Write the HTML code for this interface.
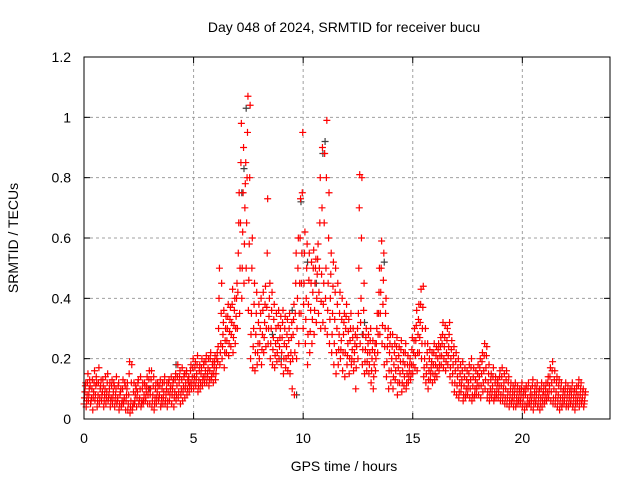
<!DOCTYPE html>
<html><head><meta charset="utf-8"><style>
body{margin:0;background:#fff;width:640px;height:480px;overflow:hidden}
svg{display:block;font-family:"Liberation Sans",sans-serif}
</style></head><body>
<svg id="chart" width="640" height="480" viewBox="0 0 640 480" xmlns="http://www.w3.org/2000/svg">
<text x="344" y="32" font-size="14" text-anchor="middle" fill="#000">Day 048 of 2024, SRMTID for receiver bucu</text>
<text transform="translate(18,238) rotate(-90)" font-size="14" text-anchor="middle" fill="#000">SRMTID / TECUs</text>
<text x="344" y="471" font-size="14" text-anchor="middle" fill="#000">GPS time / hours</text>
<g id="grid"></g>
<g id="ticks"></g>
<g id="grey"></g>
<g id="red"></g>
<rect x="84" y="57" width="526" height="362" fill="none" stroke="#000" stroke-width="1"/>
</svg>
<script>
const xTicks=[0,5,10,15,20];
const yTicks=[0,0.2,0.4,0.6,0.8,1,1.2];
const yTickLabels=["0","0.2","0.4","0.6","0.8","1","1.2"];
const tStep=0.1;
const srHi=[.12,.15,.11,.13,.16,.12,.17,.13,.11,.14,
.15,.12,.13,.11,.14,.12,.10,.13,.11,.12,
.19,.18,.12,.10,.13,.14,.12,.11,.14,.16,
.16,.14,.12,.11,.13,.12,.14,.12,.13,.14,
.13,.15,.18,.16,.17,.15,.16,.14,.18,.20,
.19,.21,.18,.20,.19,.21,.20,.22,.19,.21,
.22,.50,.45,.36,.34,.38,.37,.43,.40,.45,
.75,.98,.90,.85,1.07,1.04,.60,.45,.42,.38,
.40,.42,.44,.73,.45,.42,.38,.35,.36,.34,
.36,.34,.33,.35,.32,.38,.55,.60,.73,.95,
.62,.58,.55,.52,.56,.53,.58,.80,.90,.88,
.99,.75,.55,.52,.50,.45,.42,.40,.35,.38,
.33,.35,.30,.28,.30,.81,.80,.45,.30,.28,
.30,.26,.25,.35,.50,.59,.55,.40,.30,.28,
.28,.25,.27,.24,.26,.22,.25,.21,.20,.27,
.30,.36,.38,.43,.44,.30,.25,.23,.22,.25,
.24,.25,.27,.32,.31,.30,.32,.26,.24,.22,
.20,.18,.19,.17,.16,.18,.20,.17,.16,.18,
.20,.22,.25,.24,.18,.15,.17,.14,.13,.16,
.17,.15,.16,.14,.12,.11,.12,.11,.10,.12,
.10,.11,.12,.10,.13,.11,.12,.10,.12,.11,
.12,.14,.17,.19,.16,.14,.13,.12,.10,.12,
.11,.10,.12,.10,.11,.13,.12,.10,.09];
const srQ3=[.11,.12,.13,.10,.12,.14,.12,.11,.13,.10,
.12,.10,.11,.12,.10,.11,.09,.10,.12,.10,
.15,.12,.09,.11,.12,.10,.10,.12,.11,.13,
.13,.11,.10,.12,.11,.10,.12,.10,.12,.11,
.12,.13,.14,.14,.13,.14,.15,.12,.16,.17,
.17,.18,.16,.17,.18,.19,.17,.20,.18,.19,
.20,.40,.35,.32,.30,.34,.33,.38,.36,.40,
.65,.85,.75,.78,.95,.80,.50,.38,.35,.32,
.35,.36,.38,.55,.40,.36,.33,.30,.31,.30,
.32,.30,.28,.30,.27,.33,.45,.50,.60,.75,
.55,.50,.46,.45,.50,.50,.53,.65,.70,.65,
.80,.60,.48,.44,.42,.38,.35,.33,.32,.34,
.29,.30,.27,.25,.27,.70,.60,.36,.27,.25,
.26,.23,.22,.30,.42,.50,.46,.35,.27,.25,
.24,.22,.24,.21,.23,.19,.22,.18,.18,.23,
.26,.31,.33,.38,.37,.25,.22,.20,.19,.22,
.21,.23,.24,.28,.27,.26,.28,.23,.21,.19,
.17,.15,.16,.14,.13,.15,.17,.14,.13,.15,
.17,.19,.21,.21,.15,.13,.14,.12,.12,.14,
.14,.12,.13,.12,.10,.09,.10,.09,.09,.10,
.09,.10,.10,.08,.11,.09,.10,.09,.10,.09,
.10,.12,.14,.16,.13,.12,.11,.10,.09,.10,
.09,.09,.10,.09,.09,.11,.10,.09,.08];
const srMid=[.09,.08,.10,.07,.09,.11,.08,.10,.09,.08,
.09,.08,.07,.09,.08,.07,.08,.06,.07,.08,
.08,.06,.05,.08,.09,.07,.06,.08,.09,.10,
.10,.08,.07,.09,.08,.07,.09,.08,.09,.10,
.10,.09,.11,.12,.10,.11,.12,.13,.12,.14,
.14,.15,.13,.15,.14,.16,.15,.16,.15,.17,
.17,.30,.25,.28,.26,.30,.29,.32,.31,.34,
.55,.65,.62,.70,.80,.58,.35,.30,.28,.25,
.30,.28,.32,.37,.34,.30,.27,.25,.26,.27,
.27,.25,.24,.26,.22,.28,.35,.40,.45,.55,
.45,.40,.38,.36,.42,.45,.48,.50,.48,.45,
.50,.45,.40,.35,.33,.30,.28,.26,.28,.30,
.25,.26,.23,.22,.24,.50,.40,.28,.23,.22,
.22,.20,.18,.25,.35,.42,.38,.30,.24,.22,
.20,.18,.20,.17,.19,.16,.18,.15,.16,.18,
.22,.26,.28,.32,.30,.20,.18,.16,.17,.18,
.18,.20,.21,.25,.24,.22,.24,.20,.18,.16,
.14,.12,.13,.11,.10,.12,.13,.11,.10,.12,
.14,.15,.16,.17,.12,.10,.11,.09,.10,.11,
.11,.10,.10,.09,.08,.07,.08,.07,.07,.08,
.07,.08,.07,.06,.08,.07,.08,.07,.07,.08,
.08,.09,.11,.12,.10,.09,.08,.07,.07,.08,
.07,.07,.08,.07,.07,.08,.08,.07,.06];
const srQ1=[.07,.06,.08,.06,.07,.08,.06,.07,.08,.06,
.07,.07,.06,.07,.06,.06,.05,.05,.06,.06,
.05,.04,.04,.06,.07,.06,.05,.06,.07,.08,
.08,.06,.05,.07,.07,.05,.07,.06,.06,.08,
.08,.07,.08,.09,.08,.09,.10,.10,.11,.12,
.12,.13,.11,.12,.13,.14,.14,.13,.14,.15,
.15,.24,.22,.24,.22,.26,.25,.28,.27,.30,
.42,.50,.50,.58,.65,.46,.28,.24,.22,.22,
.25,.23,.27,.30,.30,.25,.23,.21,.22,.24,
.22,.20,.20,.21,.19,.20,.22,.30,.35,.45,
.38,.33,.28,.29,.33,.36,.40,.42,.39,.38,
.40,.36,.33,.28,.25,.22,.23,.23,.22,.22,
.21,.20,.20,.19,.17,.35,.32,.23,.19,.19,
.18,.16,.14,.20,.28,.35,.31,.24,.19,.16,
.16,.14,.16,.12,.15,.12,.14,.12,.14,.15,
.18,.21,.22,.27,.25,.17,.15,.13,.15,.15,
.15,.17,.18,.21,.20,.19,.21,.17,.15,.12,
.11,.09,.11,.08,.08,.10,.10,.08,.08,.10,
.11,.11,.12,.13,.09,.08,.09,.07,.08,.09,
.08,.08,.07,.07,.06,.06,.06,.05,.06,.06,
.05,.05,.05,.05,.06,.05,.06,.05,.05,.06,
.06,.07,.09,.09,.07,.07,.06,.05,.05,.06,
.05,.05,.06,.05,.05,.06,.06,.06,.05];
const srLo=[.05,.04,.06,.05,.03,.06,.04,.05,.06,.04,
.05,.06,.04,.05,.04,.05,.03,.04,.05,.03,
.03,.02,.03,.05,.04,.05,.04,.05,.06,.05,
.05,.04,.03,.05,.06,.04,.05,.05,.04,.06,
.05,.04,.06,.07,.05,.06,.07,.08,.09,.10,
.10,.11,.09,.10,.11,.12,.12,.11,.13,.12,
.13,.19,.18,.20,.17,.22,.21,.24,.22,.25,
.30,.35,.40,.45,.50,.36,.20,.17,.16,.18,
.20,.18,.22,.24,.25,.20,.18,.17,.19,.20,
.18,.15,.17,.16,.15,.10,.08,.20,.25,.35,
.30,.25,.18,.22,.25,.28,.32,.35,.30,.32,
.30,.28,.25,.22,.18,.15,.18,.20,.16,.14,
.18,.15,.18,.16,.10,.20,.25,.18,.15,.16,
.15,.12,.10,.16,.22,.28,.25,.18,.14,.10,
.12,.10,.13,.08,.12,.09,.11,.10,.12,.13,
.15,.17,.16,.22,.20,.14,.12,.10,.13,.12,
.13,.14,.16,.18,.17,.16,.18,.14,.12,.09,
.08,.07,.09,.06,.07,.08,.07,.06,.07,.08,
.08,.07,.09,.10,.07,.06,.07,.06,.07,.07,
.06,.06,.05,.05,.04,.05,.04,.04,.05,.05,
.04,.03,.04,.05,.04,.03,.05,.04,.03,.04,
.05,.06,.07,.06,.05,.05,.04,.03,.04,.05,
.04,.04,.05,.04,.03,.05,.04,.05,.04];
const greyT=[7.3,7.4,9.9,9.7,10.9,11.0,8.6,13.7,9.5,10.2,12.7,4.2,3.0,12.8,9.0,7.2,10.6];
const greyV=[0.83,1.03,0.72,0.08,0.88,0.92,0.28,0.52,0.36,0.52,0.28,0.18,0.10,0.32,0.20,0.75,0.45];

const X0=84,X1=610,Y0=419,Y1=57;
const xs=t=>X0+(t/24)*(X1-X0);
const ys=v=>Y0-(v/1.2)*(Y0-Y1);
const NS="http://www.w3.org/2000/svg";
const grid=document.getElementById('grid'),ticks=document.getElementById('ticks');
function mk(tag,attrs,parent){const e=document.createElementNS(NS,tag);for(const k in attrs)e.setAttribute(k,attrs[k]);parent.appendChild(e);return e;}
xTicks.forEach(v=>{
  const x=xs(v);
  if(v>0){const g=mk('line',{x1:x,x2:x,y1:Y1,y2:Y0,stroke:'#a0a0a0','stroke-dasharray':'3,3'},grid);
  
  }
  const t=mk('line',{x1:x,x2:x,y1:Y0,y2:Y0-6,stroke:'#000'},ticks);
  
  
  const t2=mk('line',{x1:x,x2:x,y1:Y1,y2:Y1+6,stroke:'#000'},ticks);
  
  
  const l=mk('text',{x:x,y:443,'font-size':14,'text-anchor':'middle',fill:'#000'},ticks);
  l.textContent=String(v);
  
  
});
yTicks.forEach((v,i)=>{
  const y=ys(v);
  if(v>0&&v<1.2){const g=mk('line',{x1:X0,x2:X1,y1:y,y2:y,stroke:'#a0a0a0','stroke-dasharray':'3,3'},grid);
  
  }
  const t=mk('line',{x1:X0,x2:X0+6,y1:y,y2:y,stroke:'#000'},ticks);
  
  
  const t2=mk('line',{x1:X1-6,x2:X1,y1:y,y2:y,stroke:'#000'},ticks);
  
  
  const l=mk('text',{x:71,y:y+5,'font-size':14,'text-anchor':'end',fill:'#000'},ticks);
  l.textContent=yTickLabels[i];
  
  
});
function plus(parent,t,v,color,name){
  const x=xs(t),y=ys(v);
  const p=mk('path',{d:`M${x-3.5},${y}H${x+3.5}M${x},${y-3.5}V${y+3.5}`,stroke:color,'stroke-width':1.2,fill:'none'},parent);
  
  
}
const grey=document.getElementById('grey'),red=document.getElementById('red');
greyT.forEach((t,i)=>plus(grey,t,greyV[i],'#404040','grey-point'));
[[srLo,0],[srQ1,0.02],[srMid,0.04],[srQ3,0.06],[srHi,0.08]].forEach(([arr,off])=>{
  arr.forEach((v,i)=>{plus(red,i*tStep+off,v,'#ff0000','srmtid-point');});
});
</script>
</body></html>
